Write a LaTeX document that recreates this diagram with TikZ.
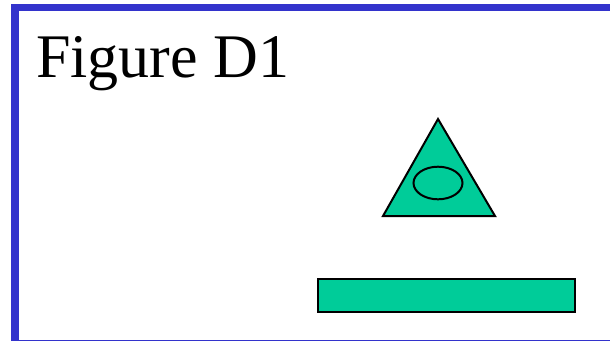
\documentclass[tikz,border=0pt]{standalone}
\usepackage{fontspec}
\setmainfont{Liberation Serif}
\definecolor{frameblue}{RGB}{51, 51, 204}
\definecolor{shapegreen}{RGB}{0, 204, 153}
\usetikzlibrary{positioning}

\begin{document}
\begin{tikzpicture}[x=1pt, y=-1pt,
    shapefill/.style={fill=shapegreen, draw=black, line width=2pt, line join=miter}]
  \useasboundingbox (0,0) rectangle (610,341);
  % frame
  \fill[frameblue] (11,4) rectangle (610,11);
  \fill[frameblue] (11,4) rectangle (18.5,341);
  \fill[frameblue] (11,339.5) rectangle (610,341);
  % title
  \node[anchor=base west, inner sep=0pt, font=\fontsize{62}{62}\selectfont] (title) at (36,77) {Figure D1};
  % triangle with ellipse
  \coordinate (apex) at (438,119);
  \coordinate (baseL) at (383,216);
  \coordinate (baseR) at (495,216);
  \draw[shapefill] (apex) -- (baseL) -- (baseR) -- cycle;
  \draw[line width=2pt] (438,183) ellipse [x radius=24.5, y radius=16.3];
  % bar
  \draw[shapefill, line width=2.4pt] (318,279) rectangle (575,312);
\end{tikzpicture}
\end{document}
